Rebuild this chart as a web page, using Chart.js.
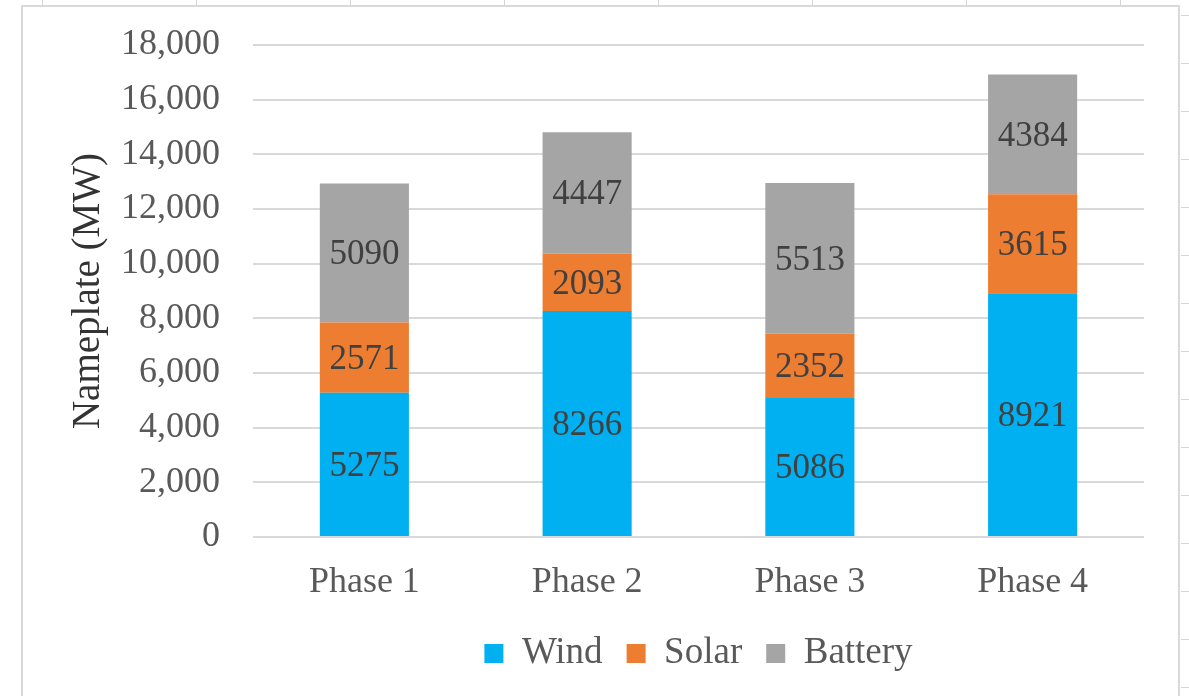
<!DOCTYPE html>
<html>
<head>
<meta charset="utf-8">
<script src="https://cdn.jsdelivr.net/npm/chart.js@4/dist/chart.umd.min.js"></script>
<style>
  html, body { margin: 0; padding: 0; background: #ffffff; }
  #wrap { width: 1189px; height: 696px; }
</style>
</head>
<body>
<div id="wrap"><canvas id="c" width="1189" height="696"></canvas></div>
<script>
const categories = ["Phase 1", "Phase 2", "Phase 3", "Phase 4"];
const windValues = [5275, 8266, 5086, 8921];
const solarValues = [2571, 2093, 2352, 3615];
const batteryValues = [5090, 4447, 5513, 4384];
const seriesNames = ["Wind", "Solar", "Battery"];
const yMin = 0, yMax = 18000, yStep = 2000;
const axisTitle = "Nameplate (MW)";

const FONT = "'Liberation Serif', 'Times New Roman', serif";

const frame = {
  id: 'frame',
  beforeDraw(chart) {
    const ctx = chart.ctx;
    ctx.save();
    ctx.fillStyle = '#ffffff';
    ctx.fillRect(0, 0, chart.width, chart.height);
    // spreadsheet cell stubs outside the chart frame
    ctx.strokeStyle = '#d6d6d6';
    ctx.lineWidth = 1;
    ctx.beginPath();
    for (let x = 42; x < 1180; x += 154) { ctx.moveTo(x + 0.5, 0); ctx.lineTo(x + 0.5, 5); }
    for (let y = 15; y < 696; y += 48) { ctx.moveTo(1181, y + 0.5); ctx.lineTo(1189, y + 0.5); }
    ctx.stroke();
    // chart frame
    ctx.strokeStyle = '#d9d9d9';
    ctx.lineWidth = 2;
    ctx.strokeRect(22, 6, 1157, 720);
    ctx.restore();
  }
};

const valueLabels = {
  id: 'valueLabels',
  afterDatasetsDraw(chart) {
    const ctx = chart.ctx;
    ctx.save();
    ctx.font = "35px " + FONT;
    ctx.fillStyle = '#404040';
    ctx.textAlign = 'center';
    ctx.textBaseline = 'middle';
    chart.data.datasets.forEach((ds, i) => {
      const meta = chart.getDatasetMeta(i);
      meta.data.forEach((el, j) => {
        const v = ds.data[j];
        ctx.fillText(String(v), el.x, (el.y + el.base) / 2 + 2);
      });
    });
    ctx.restore();
  }
};

new Chart(document.getElementById('c'), {
  type: 'bar',
  data: {
    labels: categories,
    datasets: [
      { label: seriesNames[0], data: windValues, backgroundColor: '#00B0F0' },
      { label: seriesNames[1], data: solarValues, backgroundColor: '#ED7D31' },
      { label: seriesNames[2], data: batteryValues, backgroundColor: '#A5A5A5' }
    ]
  },
  options: {
    responsive: false,
    devicePixelRatio: 1,
    animation: false,
    layout: { padding: { left: 22, right: 45, top: 45, bottom: 14 } },
    datasets: { bar: { barPercentage: 0.5, categoryPercentage: 0.8, borderWidth: 0 } },
    scales: {
      x: {
        stacked: true,
        grid: { display: false },
        border: { display: false },
        ticks: { font: { family: FONT, size: 36 }, color: '#595959', padding: 16 },
        afterFit(scale) { scale.height = 74; scale.paddingLeft = 0; scale.paddingRight = 0; }
      },
      y: {
        stacked: true,
        min: yMin, max: yMax,
        ticks: {
          stepSize: yStep,
          font: { family: FONT, size: 36 }, color: '#595959', padding: 33,
          callback: (v) => Number(v).toLocaleString('en-US')
        },
        grid: { color: '#d9d9d9', lineWidth: 2, drawTicks: false },
        border: { display: false },
        title: {
          display: true, text: axisTitle,
          font: { family: FONT, size: 39 }, color: '#333333',
          padding: { top: 43, bottom: 0 }
        },
        afterFit(scale) { scale.width = 231; scale.paddingTop = 0; scale.paddingBottom = 0; }
      }
    },
    plugins: {
      legend: {
        position: 'bottom',
        fullSize: false,
        labels: {
          font: { family: FONT, size: 37 }, color: '#595959',
          boxWidth: 19, boxHeight: 19, padding: 24
        }
      },
      tooltip: { enabled: false }
    }
  },
  plugins: [frame, valueLabels]
});
</script>
</body>
</html>
